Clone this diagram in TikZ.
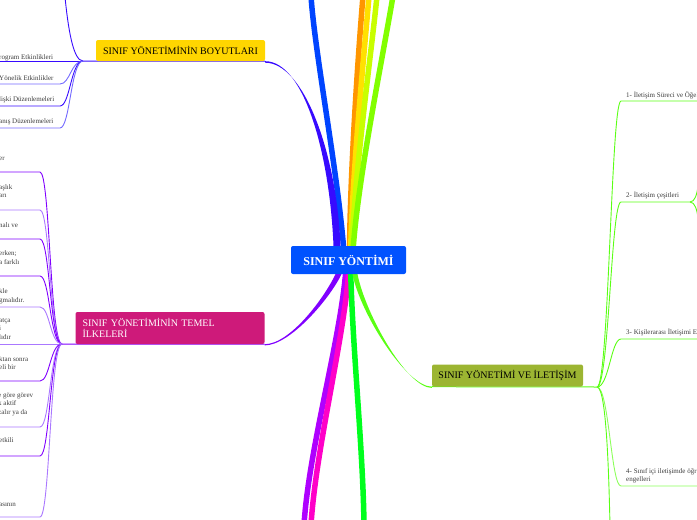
\documentclass[tikz,border=0pt]{standalone}
\usepackage{fontspec}
\setmainfont{Liberation Serif}
\usetikzlibrary{positioning,backgrounds}

\definecolor{rootblue}{RGB}{0,82,255}
\definecolor{dimyellow}{RGB}{255,214,0}
\definecolor{princpink}{RGB}{206,26,122}
\definecolor{commolive}{RGB}{156,181,50}
\definecolor{dimviolet}{RGB}{55,10,255}
\definecolor{dimlight}{RGB}{115,105,255}
\definecolor{princviolet}{RGB}{128,0,255}
\definecolor{princlight}{RGB}{170,120,255}
\definecolor{commgreen}{RGB}{90,255,20}
\definecolor{commlight}{RGB}{140,255,90}
\definecolor{leafgray}{RGB}{60,60,60}
\definecolor{brblue}{RGB}{0,68,255}
\definecolor{brorange}{RGB}{255,150,0}
\definecolor{bryellow}{RGB}{255,225,0}
\definecolor{brlime}{RGB}{200,255,0}
\definecolor{brgreen}{RGB}{130,255,0}
\definecolor{brmagenta}{RGB}{255,0,200}
\definecolor{brpurple}{RGB}{175,0,255}
\definecolor{brgreenb}{RGB}{0,255,30}

\begin{document}
\begin{tikzpicture}[
    x=1pt, y=-1pt,
    topic/.style={
        rounded corners=2pt,
        inner sep=0pt,
        font=\fontsize{10}{11}\selectfont
    },
    leaftext/.style={
        anchor=base west,
        inner sep=0pt,
        align=left,
        text=leafgray,
        font=\fontsize{7}{8.5}\selectfont
    },
    dimleaf/.style={draw=dimviolet, line width=0.9pt},
    princleaf/.style={draw=princviolet, line width=0.9pt},
    commleaf/.style={draw=commgreen, line width=0.9pt},
    bigbranch/.style={line width=5.5pt}
]
\useasboundingbox (0,0) rectangle (697,520);

% Root
\node[topic, fill=rootblue, text=white, minimum width=115pt, minimum height=28pt,
      font=\fontsize{12}{14}\selectfont\bfseries] (root) at (348.5,260)
{SINIF YÖNTİMİ};

% Main topics
\node[topic, fill=dimyellow, minimum width=169pt, minimum height=21pt] (dims) at (180.5,50.5)
{SINIF YÖNETİMİNİN BOYUTLARI};

\node[topic, fill=princpink, text=white, minimum width=189pt, minimum height=32pt,
      text width=175pt, align=left] (princ) at (170,328)
{SINIF YÖNETİMİNİN TEMEL\\İLKELERİ};

\node[topic, fill=commolive, minimum width=151pt, minimum height=22pt] (comm) at (507.5,375.5)
{SINIF YÖNETİMİ VE İLETİŞİM};

% Junctions and free ends
\coordinate (dimj) at (83,61);
\coordinate (princj) at (62,344);
\coordinate (commj) at (597,387);
\coordinate (edgeL) at (-2,0);
\coordinate (edgeR) at (699,0);

% Leaves: boyutlar (placed by the baseline of the last line)
\node[leaftext] (dimAtxt) at (-1,59) {rogram Etkinlikleri};
\node[leaftext] (dimBtxt) at (-1,80.5) {Yönelik Etkinlikler};
\node[leaftext] (dimCtxt) at (-1,101.5) {lişki Düzenlemeleri};
\node[leaftext] (dimDtxt) at (-1,123) {anış Düzenlemeleri};

% Leaves: temel ilkeler
\node[leaftext] (prAtxt) at (-1,160) {er};
\node[leaftext] (prBtxt) at (-1,197.5) {aşlık\\arı};
\node[leaftext] (prCtxt) at (-1,227) {nalı ve};
\node[leaftext] (prDtxt) at (-1,264) {erken;\\a farklı};
\node[leaftext] (prEtxt) at (-1,302) {kle\\gmalıdır.};
\node[leaftext] (prFtxt) at (-1,339) {atça\\i\\lıdır};
\node[leaftext] (prGtxt) at (-1,369.5) {ktan sonra\\eli bir};
\node[leaftext] (prHtxt) at (-2,414) {e göre görev\\k aktif\\zalır ya da};
\node[leaftext] (prItxt) at (-1,442) {etkili};
\node[leaftext] (prJtxt) at (-1,506) {asının};

% Leaves: iletisim
\node[leaftext] (commAtxt) at (626,97) {1- İletişim Süreci ve Öğel};
\node[leaftext] (commBtxt) at (626,197) {2- İletişim çeşitleri};
\node[leaftext] (commCtxt) at (626,334) {3- Kişilerarası İletişimi Et};
\node[leaftext] (commDtxt) at (626,481.5) {4- Sınıf içi iletişimde öğr\\engelleri};

\begin{scope}[on background layer]
% Big branches
\coordinate (blueTip) at (311,-4);
\coordinate (orangeTip) at (363,-4);
\coordinate (yellowTip) at (369,-4);
\coordinate (limeTip) at (377,-4);
\coordinate (greenTip) at (393,-4);
\coordinate (purpleTip) at (304,525);
\coordinate (magentaTip) at (311,525);
\coordinate (greenbTip) at (364,525);

\draw[bigbranch, brblue] ([xshift=-4pt]root.center) .. controls +(-5,-80) and +(4,60) .. (blueTip);
\draw[bigbranch, brorange] ([xshift=1pt]root.center) .. controls +(0,-80) and +(-5,60) .. (orangeTip);
\draw[bigbranch, bryellow] ([xshift=2pt]root.center) .. controls +(1,-80) and +(-5,60) .. (yellowTip);
\draw[bigbranch, brlime] ([xshift=3pt]root.center) .. controls +(2,-80) and +(-6,60) .. (limeTip);
\draw[bigbranch, brgreen] ([xshift=4pt]root.center) .. controls +(3,-70) and +(-10,60) .. (greenTip);

\draw[bigbranch, brpurple] ([xshift=-2pt]root.center) .. controls +(-3,70) and +(5,-80) .. (purpleTip);
\draw[bigbranch, brmagenta] ([xshift=1pt]root.center) .. controls +(-3,70) and +(5,-80) .. (magentaTip);
\draw[bigbranch, brgreenb] ([xshift=2pt]root.center) .. controls +(1,80) and +(-1,-80) .. (greenbTip);

% Topic branches
\fill[dimviolet] (dims.south east) .. controls +(38,0) and +(-4,-95) .. ([xshift=-15pt]root.north)
    -- ([xshift=-8pt]root.north) .. controls +(-4,-95) and +(38,0) .. ([yshift=-1.5pt]dims.south east) -- cycle;
\fill[princviolet] (princ.south east) .. controls +(25,0) and +(-12,25) .. ([xshift=-13pt]root.south)
    -- ([xshift=-7pt]root.south) .. controls +(-12,25) and +(25,0) .. ([yshift=-1.2pt]princ.south east) -- cycle;
\fill[commgreen] (comm.south west) .. controls +(-25,0) and +(8,40) .. ([xshift=4pt]root.south)
    -- ([xshift=9pt]root.south) .. controls +(8,40) and +(-25,0) .. ([yshift=-1.2pt]comm.south west) -- cycle;

% Underlines
\draw[dimviolet, line width=1pt] (dims.south east) -- (dimj);
\draw[princviolet, line width=1pt] (princ.south east) -- (princj);
\draw[commgreen, line width=1pt] (comm.south west) -- (commj);

% Connections: boyutlar
\coordinate (dimTop) at (65,-3);
\coordinate (dimB) at (60,84);
\coordinate (dimC) at (60,106);
\coordinate (dimD) at (60,128);
\draw[dimleaf] (dimj) .. controls +(-10,0) and +(3,30) .. (dimTop);
\draw[dimleaf] (dimj) -- (edgeL |- dimj);
\draw[dimleaf, draw=dimlight] (dimj) .. controls +(-12,0) and +(10,0) .. (dimB) -- (dimB -| edgeL);
\draw[dimleaf] (dimj) .. controls +(-12,0) and +(10,0) .. (dimC) -- (dimC -| edgeL);
\draw[dimleaf, draw=dimlight] (dimj) .. controls +(-12,0) and +(10,0) .. (dimD) -- (dimD -| edgeL);

% Connections: temel ilkeler
\coordinate (prA) at (40,172);
\coordinate (prB) at (40,210);
\coordinate (prC) at (40,239);
\coordinate (prD) at (40,276);
\coordinate (prE) at (40,307);
\coordinate (prG) at (40,381);
\coordinate (prH) at (40,427);
\coordinate (prI) at (40,456);
\coordinate (prJ) at (40,517);
\draw[princleaf] (princj) .. controls +(-12,0) and +(10,0) .. (prA) -- (prA -| edgeL);
\draw[princleaf, draw=princlight] (princj) .. controls +(-12,0) and +(10,0) .. (prB) -- (prB -| edgeL);
\draw[princleaf] (princj) .. controls +(-12,0) and +(10,0) .. (prC) -- (prC -| edgeL);
\draw[princleaf] (princj) .. controls +(-12,0) and +(10,0) .. (prD) -- (prD -| edgeL);
\draw[princleaf, draw=princlight] (princj) .. controls +(-12,0) and +(10,0) .. (prE) -- (prE -| edgeL);
\draw[princleaf, draw=princlight] (princj) -- (edgeL |- princj);
\draw[princleaf] (princj) .. controls +(-12,0) and +(10,0) .. (prG) -- (prG -| edgeL);
\draw[princleaf, draw=princlight] (princj) .. controls +(-12,0) and +(10,0) .. (prH) -- (prH -| edgeL);
\draw[princleaf] (princj) .. controls +(-12,0) and +(10,0) .. (prI) -- (prI -| edgeL);
\draw[princleaf, draw=princlight] (princj) .. controls +(-12,0) and +(10,0) .. (prJ) -- (prJ -| edgeL);

% Connections: iletisim
\coordinate (commA) at (621,101);
\coordinate (commB) at (621,202);
\coordinate (commBj) at (690,202);
\coordinate (commBup) at (698,186);
\coordinate (commBdn) at (698,218);
\coordinate (commC) at (621,339);
\coordinate (commD) at (621,486);
\coordinate (commEtip) at (610,525);
\draw[commleaf] (commj) .. controls +(12,0) and +(-10,0) .. (commA) -- (commA -| edgeR);
\draw[commleaf] (commj) .. controls +(12,0) and +(-10,0) .. (commB) -- (commBj);
\draw[commleaf] (commBj) .. controls +(5,0) and +(-1,8) .. (commBup);
\draw[commleaf] (commBj) .. controls +(5,0) and +(-1,-8) .. (commBdn);
\draw[commleaf] (commj) .. controls +(12,0) and +(-10,0) .. (commC) -- (commC -| edgeR);
\draw[commleaf, draw=commlight] (commj) .. controls +(12,0) and +(-10,0) .. (commD) -- (commD -| edgeR);
\draw[commleaf] (commj) .. controls +(10,0) and +(-1,-40) .. (commEtip);
\end{scope}

\end{tikzpicture}
\end{document}
